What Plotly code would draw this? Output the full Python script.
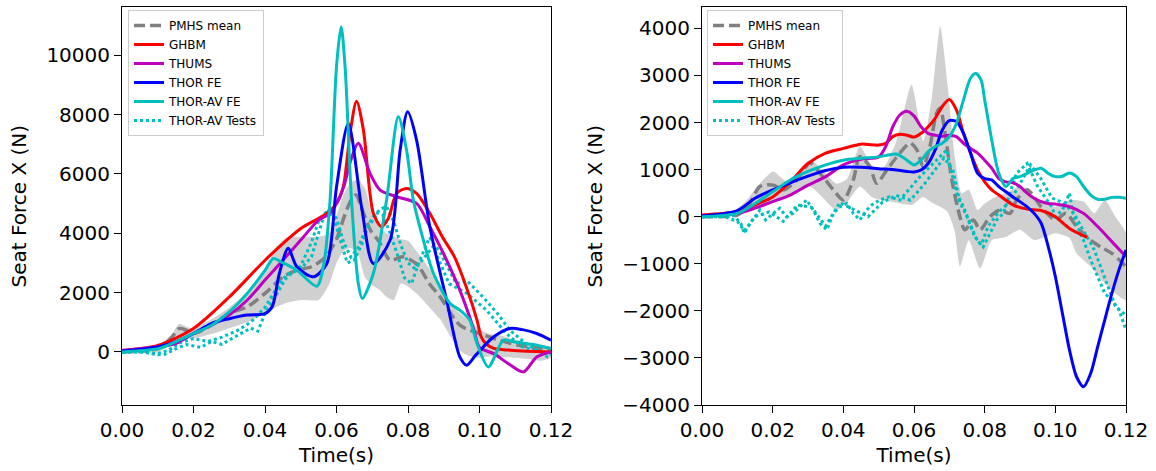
import plotly.graph_objects as go
from plotly.subplots import make_subplots

# ---------------- LEFT PANEL ----------------
L_band_t = [0, 0.01, 0.014, 0.016, 0.018, 0.02, 0.025, 0.03, 0.035, 0.04, 0.043, 0.046, 0.05, 0.055, 0.058, 0.06, 0.062, 0.064, 0.066, 0.068, 0.07, 0.072, 0.074, 0.076, 0.078, 0.08, 0.083, 0.086, 0.089, 0.092, 0.095, 0.098, 0.1, 0.103, 0.106, 0.11, 0.114, 0.117, 0.12]
L_band_up = [60, 180, 600, 950, 850, 800, 1100, 1500, 2000, 2700, 3500, 3850, 3880, 3880, 4000, 4600, 5300, 5700, 5800, 5500, 4600, 4200, 4000, 3900, 3800, 3750, 3300, 2800, 2100, 1600, 1250, 1000, 750, 600, 550, 400, 300, 250, 150]
L_band_lo = [-60, 0, 250, 450, 450, 450, 600, 800, 1000, 1300, 1500, 1650, 1750, 1750, 2300, 3000, 3400, 3500, 3300, 2500, 2250, 2100, 1850, 1750, 2300, 2200, 1900, 1500, 1100, 500, 0, -170, -200, -150, -170, -200, -250, -300, -200]

L_mean_t = [0, 0.01, 0.014, 0.016, 0.018, 0.02, 0.025, 0.03, 0.035, 0.04, 0.045, 0.049, 0.053, 0.057, 0.06, 0.062, 0.064, 0.0655, 0.067, 0.0695, 0.072, 0.075, 0.0785, 0.0825, 0.086, 0.089, 0.0945, 0.1, 0.1055, 0.111, 0.117, 0.12]
L_mean_f = [0, 110, 500, 790, 730, 620, 900, 1290, 1520, 1970, 2530, 2755, 2870, 3205, 3800, 4500, 5100, 5290, 4850, 4100, 3700, 3090, 3205, 2950, 2300, 1855, 900, 620, 395, 225, 115, 60]

L_ghbm_t = [0, 0.01, 0.02, 0.03, 0.04, 0.045, 0.05, 0.055, 0.0573, 0.06, 0.0619, 0.0638, 0.0656, 0.0675, 0.0703, 0.0726, 0.0745, 0.0768, 0.0796, 0.0824, 0.0861, 0.0895, 0.093, 0.0964, 0.0993, 0.1005, 0.102, 0.104, 0.108, 0.112, 0.12]
L_ghbm_f = [50, 220, 790, 1850, 3090, 3650, 4160, 4500, 4670, 5000, 5570, 7370, 8450, 7500, 4670, 4220, 4500, 5340, 5510, 5340, 4670, 3900, 3200, 2150, 1070, 500, 250, 120, 60, 30, 0]

L_thums_t = [0, 0.01, 0.015, 0.02, 0.025, 0.03, 0.035, 0.04, 0.045, 0.05, 0.055, 0.058, 0.06, 0.062, 0.064, 0.0661, 0.0694, 0.0722, 0.0768, 0.0824, 0.0861, 0.09, 0.0945, 0.0983, 0.1, 0.104, 0.108, 0.1123, 0.116, 0.12]
L_thums_f = [50, 170, 280, 620, 900, 1240, 1740, 2420, 3090, 3770, 4440, 4650, 5000, 5560, 6460, 7030, 6010, 5450, 5230, 5005, 4220, 3300, 2080, 800, 150, -60, -390, -675, -170, 0]

L_thor_t = [0, 0.01, 0.015, 0.02, 0.025, 0.03, 0.035, 0.04, 0.042, 0.044, 0.0465, 0.0489, 0.0535, 0.0573, 0.06, 0.0633, 0.067, 0.0703, 0.075, 0.0778, 0.0799, 0.0824, 0.0861, 0.0908, 0.0945, 0.0964, 0.099, 0.104, 0.1085, 0.112, 0.116, 0.12]
L_thor_f = [30, 170, 340, 620, 955, 1120, 1240, 1290, 1520, 2640, 3490, 2870, 2530, 2980, 5560, 7700, 4890, 2980, 3770, 6800, 8095, 7140, 4220, 1745, -170, -449, -100, 510, 790, 750, 620, 395]

L_avfe_t = [0, 0.01, 0.015, 0.02, 0.025, 0.03, 0.035, 0.04, 0.0423, 0.0445, 0.0489, 0.0545, 0.0565, 0.0582, 0.06, 0.0613, 0.0624, 0.0642, 0.0661, 0.0672, 0.0703, 0.074, 0.0773, 0.0796, 0.0815, 0.0843, 0.0871, 0.0917, 0.0945, 0.0973, 0.0993, 0.1025, 0.1067, 0.11, 0.115, 0.12]
L_avfe_f = [0, 110, 340, 620, 900, 1350, 1970, 2750, 3150, 3030, 2755, 2216, 3000, 5117, 9610, 10960, 9610, 5117, 2307, 1800, 2640, 5117, 7925, 6800, 5117, 3768, 2650, 1640, 1406, 1070, 283, -505, 395, 330, 250, 110]

L_test1_t = [0, 0.005, 0.01, 0.012, 0.015, 0.018, 0.02, 0.022, 0.025, 0.028, 0.03, 0.033, 0.036, 0.038, 0.04, 0.043, 0.046, 0.05, 0.053, 0.055, 0.057, 0.059, 0.061, 0.063, 0.065, 0.067, 0.069, 0.071, 0.073, 0.075, 0.077, 0.079, 0.081, 0.083, 0.086, 0.089, 0.0935, 0.0965, 0.101, 0.105, 0.1085, 0.113, 0.119, 0.12]
L_test1_f = [0, 20, -100, -80, 100, 250, 200, 150, 350, 250, 400, 600, 800, 700, 1300, 1900, 2500, 2900, 3700, 4400, 4700, 4600, 3800, 3000, 3100, 3600, 4300, 4700, 4600, 4000, 3300, 2500, 2300, 3000, 3850, 3350, 2300, 2400, 1850, 1300, 730, 280, -170, -200]

L_test2_t = [0, 0.005, 0.01, 0.013, 0.016, 0.02, 0.024, 0.028, 0.032, 0.036, 0.04, 0.043, 0.046, 0.05, 0.053, 0.056, 0.058, 0.06, 0.062, 0.064, 0.066, 0.068, 0.07, 0.072, 0.074, 0.076, 0.078, 0.08, 0.082, 0.087, 0.0915, 0.0965, 0.102, 0.1075, 0.112, 0.119, 0.12]
L_test2_f = [0, 0, -50, 50, 300, 450, 350, 500, 700, 1000, 1500, 2100, 2600, 2800, 3200, 4400, 4800, 4500, 3700, 3200, 3500, 4100, 4400, 4800, 4900, 4400, 3600, 3000, 2800, 3550, 2300, 1970, 1400, 620, 170, -50, -100]

# ---------------- RIGHT PANEL ----------------
R_band_up_t = [0, 0.008, 0.012, 0.0164, 0.0202, 0.024, 0.0306, 0.034, 0.038, 0.041, 0.0447, 0.048, 0.051, 0.055, 0.0593, 0.0626, 0.065, 0.0674, 0.0695, 0.0715, 0.0735, 0.0755, 0.078, 0.08, 0.083, 0.086, 0.09, 0.094, 0.098, 0.1, 0.104, 0.108, 0.111, 0.114, 0.117, 0.12]
R_band_up_f = [30, 80, 300, 710, 960, 750, 1210, 1000, 700, 800, 1490, 1100, 1000, 1600, 2800, 1600, 2500, 4040, 2800, 1300, 500, 570, 140, 280, 420, 500, 640, 420, 280, 210, 350, 320, 70, 350, 0, -350]
R_band_lo_t = [0, 0.008, 0.012, 0.0164, 0.0202, 0.027, 0.0306, 0.034, 0.038, 0.041, 0.0447, 0.048, 0.051, 0.055, 0.0593, 0.0626, 0.065, 0.0674, 0.0695, 0.0715, 0.073, 0.0755, 0.0787, 0.082, 0.086, 0.09, 0.094, 0.098, 0.1, 0.104, 0.106, 0.11, 0.114, 0.117, 0.12]
R_band_lo_f = [-30, 0, 80, 210, 350, 500, 640, 420, 140, 300, 640, 420, 350, 300, 250, 420, 300, 210, 100, -300, -1060, -500, -1100, -500, -430, -280, -500, -400, -350, -450, -780, -1060, -1420, -1630, -1770]

R_mean_t = [0, 0.01, 0.013, 0.0164, 0.0202, 0.023, 0.0268, 0.0306, 0.0334, 0.0372, 0.04, 0.0428, 0.0447, 0.0475, 0.0494, 0.0523, 0.056, 0.0589, 0.0608, 0.0626, 0.0645, 0.0664, 0.0674, 0.0688, 0.0707, 0.073, 0.0744, 0.0768, 0.0787, 0.0815, 0.0843, 0.0872, 0.089, 0.092, 0.096, 0.1, 0.103, 0.106, 0.11, 0.113, 0.116, 0.12]
R_mean_f = [0, 35, 210, 640, 670, 570, 780, 1140, 920, 570, 355, 780, 1280, 1060, 710, 990, 1350, 1560, 1420, 1060, 1490, 2200, 2310, 1770, 780, 0, -280, -70, -280, 0, 140, 70, 350, 570, 210, -70, 70, -210, -500, -650, -780, -1060]

R_ghbm_t = [0, 0.01, 0.015, 0.02, 0.025, 0.03, 0.035, 0.04, 0.045, 0.05, 0.052, 0.054, 0.056, 0.058, 0.06, 0.062, 0.064, 0.066, 0.068, 0.07, 0.072, 0.074, 0.076, 0.078, 0.08, 0.082, 0.084, 0.088, 0.092, 0.096, 0.1, 0.104, 0.109]
R_ghbm_f = [35, 110, 250, 420, 740, 1130, 1350, 1450, 1540, 1520, 1560, 1700, 1750, 1730, 1690, 1770, 1910, 2090, 2340, 2490, 2270, 1770, 1350, 990, 740, 570, 460, 250, 160, 130, 0, -250, -440]

R_thums_t = [0, 0.01, 0.015, 0.02, 0.025, 0.03, 0.035, 0.04, 0.045, 0.05, 0.052, 0.054, 0.056, 0.058, 0.06, 0.062, 0.064, 0.066, 0.068, 0.07, 0.072, 0.074, 0.076, 0.078, 0.08, 0.082, 0.084, 0.086, 0.088, 0.09, 0.092, 0.094, 0.096, 0.098, 0.1, 0.104, 0.108, 0.112, 0.116, 0.12]
R_thums_f = [15, 70, 180, 320, 460, 670, 850, 1100, 1220, 1270, 1490, 1910, 2160, 2240, 2140, 1910, 1770, 1730, 1710, 1730, 1700, 1560, 1450, 1350, 1200, 1030, 810, 740, 720, 640, 500, 390, 320, 280, 270, 210, 70, -210, -530, -850]

R_thor_t = [0, 0.01, 0.015, 0.02, 0.025, 0.03, 0.035, 0.04, 0.045, 0.05, 0.055, 0.058, 0.06, 0.062, 0.064, 0.066, 0.068, 0.07, 0.072, 0.074, 0.076, 0.078, 0.08, 0.082, 0.084, 0.086, 0.088, 0.09, 0.092, 0.094, 0.096, 0.098, 0.1, 0.102, 0.104, 0.106, 0.108, 0.11, 0.112, 0.114, 0.116, 0.118, 0.12]
R_thor_f = [15, 130, 390, 570, 720, 860, 980, 1050, 1050, 1020, 990, 960, 950, 990, 1130, 1420, 1840, 2040, 2020, 1770, 1350, 920, 810, 780, 640, 530, 420, 320, 210, 70, -140, -640, -1270, -2050, -2830, -3400, -3610, -3330, -2760, -2190, -1630, -1130, -710]

R_avfe_t = [0, 0.01, 0.015, 0.02, 0.025, 0.03, 0.035, 0.04, 0.045, 0.05, 0.055, 0.058, 0.06, 0.062, 0.064, 0.066, 0.068, 0.07, 0.072, 0.074, 0.076, 0.0775, 0.079, 0.08, 0.082, 0.084, 0.086, 0.088, 0.09, 0.092, 0.094, 0.096, 0.098, 0.1, 0.102, 0.104, 0.106, 0.108, 0.11, 0.112, 0.114, 0.116, 0.118, 0.12]
R_avfe_f = [0, 70, 280, 530, 780, 960, 1100, 1200, 1240, 1270, 1330, 1200, 1100, 1200, 1380, 1490, 1560, 1700, 1980, 2480, 2940, 3040, 2900, 2480, 1630, 920, 640, 810, 850, 920, 990, 1030, 920, 850, 860, 930, 850, 640, 460, 370, 370, 410, 410, 390]

R_test1_t = [0, 0.005, 0.009, 0.011, 0.012, 0.014, 0.0164, 0.018, 0.0202, 0.022, 0.0239, 0.0258, 0.0277, 0.0296, 0.0315, 0.0334, 0.0353, 0.0372, 0.039, 0.041, 0.0428, 0.0447, 0.0466, 0.0485, 0.0504, 0.053, 0.056, 0.0585, 0.0617, 0.0645, 0.0674, 0.0693, 0.0702, 0.0721, 0.074, 0.0759, 0.0778, 0.0796, 0.0815, 0.0834, 0.0853, 0.0872, 0.089, 0.092, 0.095, 0.097, 0.099, 0.1, 0.102, 0.104, 0.105, 0.107, 0.108, 0.11, 0.112, 0.114, 0.116, 0.118, 0.12]
R_test1_f = [0, 0, 20, -150, -350, -100, 140, -70, 70, 180, 0, 70, 210, 355, 140, -140, -280, 70, 210, 280, 70, -70, 140, 280, 355, 420, 355, 570, 850, 1060, 1280, 1420, 1060, 500, 210, -140, -500, -640, -350, -70, 70, 500, 920, 1130, 640, 420, 210, 0, 140, 500, 70, -350, -500, -920, -1270, -1630, -1770, -1980, -2400]

R_test2_t = [0, 0.006, 0.01, 0.012, 0.015, 0.019, 0.023, 0.027, 0.031, 0.035, 0.039, 0.043, 0.047, 0.051, 0.055, 0.059, 0.063, 0.066, 0.0685, 0.071, 0.073, 0.075, 0.077, 0.079, 0.081, 0.084, 0.087, 0.09, 0.093, 0.096, 0.099, 0.102, 0.105, 0.108, 0.111, 0.114, 0.117, 0.12]
R_test2_f = [0, 10, -100, -300, 0, 100, -100, 250, 200, -200, 300, 150, 0, 300, 450, 350, 700, 1000, 1250, 1000, 300, 0, -400, -600, -200, 100, 300, 700, 1100, 800, 400, 300, 100, -300, -700, -1300, -1900, -2100]

x_tick_vals = [0, 0.02, 0.04, 0.06, 0.08, 0.10, 0.12]
x_tick_text = ["0.00", "0.02", "0.04", "0.06", "0.08", "0.10", "0.12"]
L_y_ticks = [0, 2000, 4000, 6000, 8000, 10000]
R_y_ticks = [-4000, -3000, -2000, -1000, 0, 1000, 2000, 3000, 4000]
x_title = "Time(s)"
y_title = "Seat Force X (N)"

names = ["PMHS mean", "GHBM", "THUMS", "THOR FE", "THOR-AV FE", "THOR-AV Tests"]
colors = ["#808080", "#ff0000", "#bf00bf", "#0000ff", "#00bfbf", "#00bfbf"]

FONT = "DejaVu Sans"
fig = make_subplots(rows=1, cols=2)


def ytext(v):
    return ("\u2212" if v < 0 else "") + str(abs(v))


def add_panel(col, legend, band, mean, series, tests):
    bt_up, bf_up, bt_lo, bf_lo = band
    fig.add_trace(go.Scatter(x=list(bt_up) + list(bt_lo)[::-1], y=list(bf_up) + list(bf_lo)[::-1],
                             fill="toself", fillcolor="rgba(200,200,200,0.85)",
                             line=dict(width=0, shape="spline", smoothing=0.6),
                             mode="lines", showlegend=False, hoverinfo="skip", legend=legend),
                  row=1, col=col)
    fig.add_trace(go.Scatter(x=mean[0], y=mean[1], mode="lines", name=names[0],
                             line=dict(color=colors[0], width=3.5, dash="11px,5px", shape="spline", smoothing=0.8),
                             legend=legend, legendrank=1), row=1, col=col)
    for k, (tt, ff) in enumerate(tests):
        fig.add_trace(go.Scatter(x=tt, y=ff, mode="lines", name=names[5],
                                 line=dict(color=colors[5], width=3, dash="3px,3px"),
                                 legend=legend, legendrank=6, legendgroup="tests" + legend,
                                 showlegend=(k == 0)), row=1, col=col)
    for i, (tt, ff) in enumerate(series):
        fig.add_trace(go.Scatter(x=tt, y=ff, mode="lines", name=names[i + 1],
                                 line=dict(color=colors[i + 1], width=3, shape="spline", smoothing=0.8),
                                 legend=legend, legendrank=i + 2), row=1, col=col)


add_panel(1, "legend",
          (L_band_t, L_band_up, L_band_t, L_band_lo), (L_mean_t, L_mean_f),
          [(L_ghbm_t, L_ghbm_f), (L_thums_t, L_thums_f), (L_thor_t, L_thor_f), (L_avfe_t, L_avfe_f)],
          [(L_test1_t, L_test1_f), (L_test2_t, L_test2_f)])
add_panel(2, "legend2",
          (R_band_up_t, R_band_up_f, R_band_lo_t, R_band_lo_f), (R_mean_t, R_mean_f),
          [(R_ghbm_t, R_ghbm_f), (R_thums_t, R_thums_f), (R_thor_t, R_thor_f), (R_avfe_t, R_avfe_f)],
          [(R_test1_t, R_test1_f), (R_test2_t, R_test2_f)])

W, H = 1156, 471
ydom = [(471 - 405) / H, (471 - 7.3) / H]
axis_common = dict(showline=True, linecolor="black", linewidth=1, mirror=True, showgrid=False,
                   zeroline=False, ticks="outside", ticklen=7, tickwidth=1, tickcolor="black",
                   automargin=False,
                   tickfont=dict(family=FONT, size=20, color="black"))

fig.update_xaxes(**axis_common, range=[0, 0.12], tickvals=x_tick_vals, ticktext=x_tick_text,
                 title=dict(text=x_title, font=dict(family=FONT, size=20, color="black"), standoff=6))
fig.update_yaxes(**axis_common, title=dict(text=y_title, font=dict(family=FONT, size=20, color="black"), standoff=14))
fig.update_layout(
    xaxis=dict(domain=[122 / W, 551 / W]),
    xaxis2=dict(domain=[702 / W, 1126 / W]),
    yaxis=dict(domain=ydom, range=[-1790, 11615], tickvals=L_y_ticks, ticktext=[ytext(v) for v in L_y_ticks]),
    yaxis2=dict(domain=ydom, range=[-4000, 4447], tickvals=R_y_ticks, ticktext=[ytext(v) for v in R_y_ticks]),
)

legend_common = dict(bgcolor="rgba(255,255,255,0.85)", bordercolor="#cccccc", borderwidth=1,
                     font=dict(family=FONT, size=12, color="black"), xanchor="left", yanchor="top",
                     tracegroupgap=0, itemwidth=30)
fig.update_layout(
    width=W, height=H, margin=dict(l=0, r=0, t=0, b=0, autoexpand=False),
    paper_bgcolor="white", plot_bgcolor="white",
    font=dict(family=FONT, color="black"),
    legend=dict(**legend_common, x=128 / W, y=(471 - 10) / H),
    legend2=dict(**legend_common, x=707 / W, y=(471 - 10) / H),
)

fig.write_html("out.html")
